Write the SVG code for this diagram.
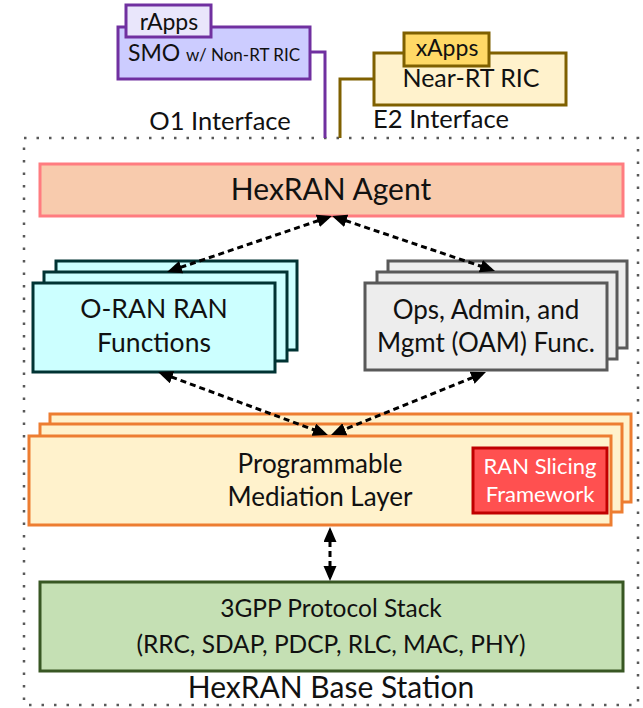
<svg xmlns="http://www.w3.org/2000/svg" width="643" height="708" viewBox="0 0 643 708">
<style>
text{font-family:Lato,"Open Sans","Liberation Sans",sans-serif;fill:#111;text-anchor:middle}
.b{stroke-width:3}
.smo{fill:#ccccff;stroke:#7030a0}
.rapp{fill:#e9e6fb;stroke:#7030a0}
.ric{fill:#fff2cc;stroke:#7f6000}
.xapp{fill:#ffd966;stroke:#7f6000}
.agent{fill:#f8cbad;stroke:#ff7c80}
.oran{fill:#ccffff;stroke:#003333}
.oam{fill:#ededed;stroke:#595959}
.med{fill:#fff2cc;stroke:#ed7d31}
.slice{fill:#ff5050;stroke:#c00000}
.gpp{fill:#c5e0b4;stroke:#385723}
.conn{fill:none;stroke:#000;stroke-width:3;stroke-dasharray:6 4;marker-start:url(#ah);marker-end:url(#ah)}
.iface{fill:none;stroke-width:3}
</style>
<defs>
<marker id="ah" markerUnits="userSpaceOnUse" markerWidth="16" markerHeight="14" refX="11" refY="6.5" orient="auto-start-reverse">
<path d="M0,0 L15,6.5 L0,13 z" fill="#000"/>
</marker>
</defs>
<g id="basestation">
<rect x="24" y="138" width="614" height="567" fill="none" stroke="#595959" stroke-width="2.5" stroke-dasharray="2.5 10"/>
<text x="331" y="698" font-size="30">HexRAN Base Station</text>
</g>
<g id="smo">
<rect class="smo b" x="118" y="27" width="192" height="52"/>
<rect class="rapp b" x="126" y="5" width="85" height="32"/>
<text x="169" y="30" font-size="23">rApps</text>
<text x="214" y="61" font-size="23">SMO <tspan font-size="17">w/ Non-RT RIC</tspan></text>
</g>
<g id="near-rt-ric">
<rect class="ric b" x="374" y="53" width="192" height="52"/>
<rect class="xapp b" x="404" y="33" width="85" height="33"/>
<text x="447" y="56" font-size="23">xApps</text>
<text x="471" y="87" font-size="25">Near-RT RIC</text>
</g>
<g id="o1-label"><text x="220" y="130" font-size="25.5">O1 Interface</text></g>
<g id="e2-label"><text x="441" y="128" font-size="25.5">E2 Interface</text></g>
<g id="agent">
<rect class="agent b" x="40" y="164" width="583" height="52"/>
<text x="331" y="200" font-size="30">HexRAN Agent</text>
</g>
<g id="oran-functions">
<rect class="oran b" x="56" y="261" width="241" height="89"/>
<rect class="oran b" x="44" y="272" width="243" height="89"/>
<rect class="oran b" x="33" y="283" width="242" height="89"/>
<text x="154" y="318" font-size="26.5">O-RAN RAN</text>
<text x="154" y="352" font-size="26.5">Functions</text>
</g>
<g id="oam-functions">
<rect class="oam b" x="388" y="261" width="239" height="87"/>
<rect class="oam b" x="377" y="272" width="240" height="87"/>
<rect class="oam b" x="365" y="283" width="242" height="87"/>
<text x="486" y="319" font-size="26">Ops, Admin, and</text>
<text x="486" y="352" font-size="26">Mgmt (OAM) Func.</text>
</g>
<g id="mediation-layer">
<rect class="med b" x="50" y="414" width="581" height="88"/>
<rect class="med b" x="40" y="424" width="582" height="88"/>
<rect class="med b" x="29" y="436" width="582" height="89"/>
<text x="320" y="473" font-size="26">Programmable</text>
<text x="320" y="506" font-size="26">Mediation Layer</text>
</g>
<g id="ran-slicing">
<rect class="slice b" x="473" y="448" width="134" height="65"/>
<text x="540" y="474" font-size="22" style="fill:#fff">RAN Slicing</text>
<text x="540" y="502" font-size="22" style="fill:#fff">Framework</text>
</g>
<g id="protocol-stack">
<rect class="gpp b" x="40" y="582" width="583" height="89"/>
<text x="331" y="617" font-size="24.5">3GPP Protocol Stack</text>
<text x="331" y="653" font-size="24.5">(RRC, SDAP, PDCP, RLC, MAC, PHY)</text>
</g>
<g id="connectors">
<polyline class="iface" stroke="#7030a0" points="310,52 325,52 325,138"/>
<polyline class="iface" stroke="#7f6000" points="374,79 340,79 340,138"/>
<line class="conn" x1="328.2" y1="217.3" x2="170.8" y2="270.7"/>
<line class="conn" x1="335.8" y1="217.3" x2="491.2" y2="269.7"/>
<line class="conn" x1="161.8" y1="373.4" x2="324.2" y2="433.6"/>
<line class="conn" x1="482.3" y1="373.5" x2="334.7" y2="433.5"/>
<line class="conn" x1="330" y1="531" x2="330" y2="577"/>
</g>
</svg>
